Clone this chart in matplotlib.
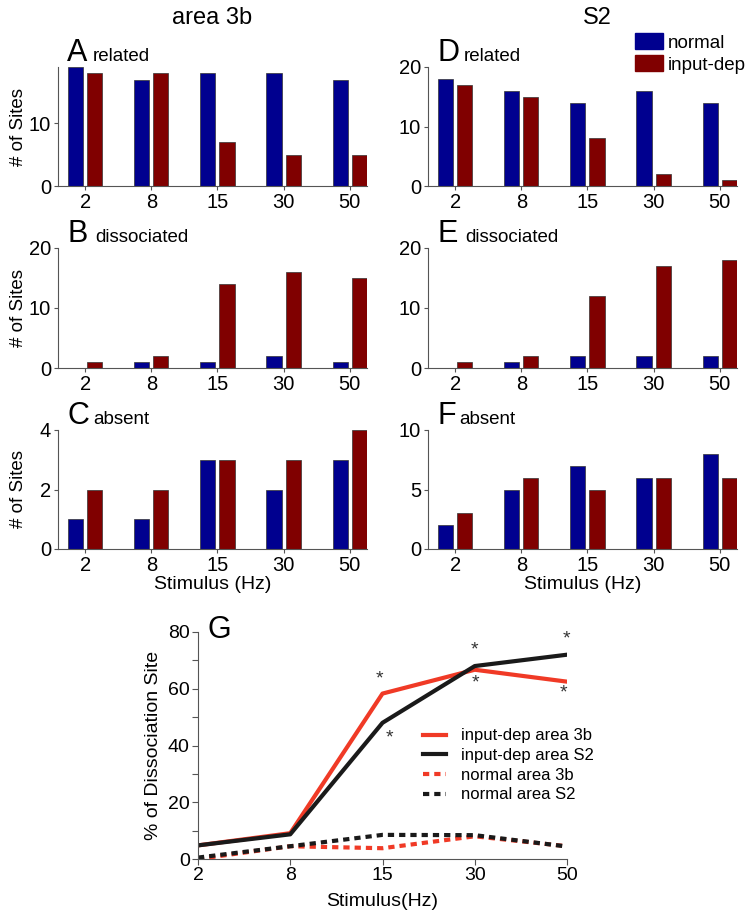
# -*- coding: utf-8 -*-

# Painéis de barras (área 3b e S2) + curva de dissociação

import numpy as np
import matplotlib.pyplot as plt
from matplotlib.patches import Patch

plt.rcParams['font.family'] = ['Liberation Sans', 'DejaVu Sans']

# Frequências de estímulo
estimulos = ['2', '8', '15', '30', '50']

# área 3b
a_normal = [19, 17, 18, 18, 17]
a_input = [18, 18, 7, 5, 5]
b_normal = [0, 1, 1, 2, 1]
b_input = [1, 2, 14, 16, 15]
c_normal = [1, 1, 3, 2, 3]
c_input = [2, 2, 3, 3, 4]

# S2
d_normal = [18, 16, 14, 16, 14]
d_input = [17, 15, 8, 2, 1]
e_normal = [0, 1, 2, 2, 2]
e_input = [1, 2, 12, 17, 18]
f_normal = [2, 5, 7, 6, 8]
f_input = [3, 6, 5, 6, 6]

# Painel G (% de sítios dissociados)
g_input_3b = [4.8, 9.1, 58.3, 66.7, 62.5]
g_input_s2 = [4.8, 8.7, 48.0, 68.0, 72.0]
g_normal_3b = [0.0, 4.5, 3.8, 8.0, 4.5]
g_normal_s2 = [0.5, 4.5, 8.5, 8.4, 4.4]

azul = '#00008f'
vermelho = '#800000'
laranja = '#f03a26'
preto = '#1a1a1a'
cinza = '#555555'

W, H = 751, 915
fig = plt.figure(figsize=(W / 100, H / 100), dpi=100)

x = np.arange(1, len(estimulos) + 1)
largura = 0.23
desloc = 0.145


def px(x0, y0, x1, y1):
    # converte caixa em pixels para fração da figura
    return [x0 / W, 1 - y1 / H, (x1 - x0) / W, (y1 - y0) / H]


def barras(caixa, normal, inp, ymax, yticks, letra, nome, nome_x,
           ylabel=False, xlabel=False):
    ax = fig.add_axes(px(*caixa))
    ax.bar(x - desloc, normal, width=largura, color=azul,
           edgecolor='#333333', linewidth=0.5)
    ax.bar(x + desloc, inp, width=largura, color=vermelho,
           edgecolor='#333333', linewidth=0.5)
    ax.set_xlim(0.59, 5.26)
    ax.set_ylim(0, ymax)
    ax.set_yticks(yticks)
    ax.set_xticks(x)
    ax.set_xticklabels(estimulos)
    for s in ['top', 'right']:
        ax.spines[s].set_visible(False)
    for s in ['left', 'bottom']:
        ax.spines[s].set_color(cinza)
        ax.spines[s].set_linewidth(0.8)
    ax.tick_params(labelsize=14.5, length=3, width=0.8, color=cinza, pad=2)
    ax.text(0.03, 1.05, letra, transform=ax.transAxes, fontsize=22,
            va='baseline', ha='left')
    ax.text(nome_x, 1.05, nome, transform=ax.transAxes, fontsize=13.5,
            va='baseline', ha='left')
    if ylabel:
        ax.set_ylabel('# of Sites', fontsize=13.5)
        ax.yaxis.set_label_coords(-0.1, 0.5)
    if xlabel:
        ax.set_xlabel('Stimulus (Hz)', fontsize=14, labelpad=1)
    return ax


barras((58, 67, 367, 186), a_normal, a_input, 19, [0, 10], 'A', 'related', 0.113, ylabel=True)
barras((58, 248, 367, 368), b_normal, b_input, 20, [0, 10, 20], 'B', 'dissociated', 0.12, ylabel=True)
barras((58, 430, 367, 549), c_normal, c_input, 4, [0, 2, 4], 'C', 'absent', 0.113, ylabel=True, xlabel=True)
barras((428, 67, 737, 186), d_normal, d_input, 20, [0, 10, 20], 'D', 'related', 0.117)
barras((428, 248, 737, 368), e_normal, e_input, 20, [0, 10, 20], 'E', 'dissociated', 0.12)
barras((428, 430, 737, 549), f_normal, f_input, 10, [0, 5, 10], 'F', 'absent', 0.1, xlabel=True)

# Títulos das colunas
fig.text(212 / W, 1 - 18 / H, 'area 3b', fontsize=17, ha='center', va='center')
fig.text(597 / W, 1 - 18 / H, 'S2', fontsize=17, ha='center', va='center')

# Legenda das barras
fig.legend(handles=[Patch(color=azul, label='normal'),
                    Patch(color=vermelho, label='input-dep')],
           loc='upper right', bbox_to_anchor=(746 / W, 1 - 33 / H),
           frameon=False, fontsize=13.5, handlelength=1.5, handleheight=0.95,
           handletextpad=0.25, labelspacing=0.2, borderpad=0, borderaxespad=0)

# Painel G
axg = fig.add_axes(px(198, 632, 567, 859))
tracejado = (0, (1.5, 1.2))
axg.plot(x, g_input_3b, color=laranja, lw=3, label='input-dep area 3b')
axg.plot(x, g_input_s2, color=preto, lw=3, label='input-dep area S2')
axg.plot(x, g_normal_3b, color=laranja, lw=3, ls=tracejado, label='normal area 3b')
axg.plot(x, g_normal_s2, color=preto, lw=3, ls=tracejado, label='normal area S2')
axg.set_xlim(1, 5)
axg.set_ylim(0, 80)
axg.set_xticks(x)
axg.set_xticklabels(estimulos)
axg.set_yticks([0, 20, 40, 60, 80])
axg.set_yticks(np.arange(10, 80, 20), minor=True)
for s in ['top', 'right']:
    axg.spines[s].set_visible(False)
for s in ['left', 'bottom']:
    axg.spines[s].set_color(cinza)
    axg.spines[s].set_linewidth(0.8)
axg.tick_params(which='both', labelsize=14, length=4, width=0.8, color=cinza, pad=2)
axg.set_xlabel('Stimulus(Hz)', fontsize=14, labelpad=6)
axg.set_ylabel('% of Dissociation Site', fontsize=14, labelpad=4)
axg.text(0.027, 0.974, 'G', transform=axg.transAxes, fontsize=22, va='baseline')

# Asteriscos de significância
ast_x = [2.97, 3.08, 4.0, 4.01, 4.99, 4.96]
ast_y = [63.5, 42.5, 73.5, 62.0, 77.5, 58.5]
for xa, ya in zip(ast_x, ast_y):
    axg.text(xa, ya, '*', fontsize=14, ha='center', va='center', color='#333333')

axg.legend(loc='upper left', bbox_to_anchor=(0.61, 0.575), frameon=False,
           fontsize=12, handlelength=1.35, handletextpad=0.9, labelspacing=0.28,
           borderpad=0, borderaxespad=0)

plt.savefig('out.png', dpi=100)
